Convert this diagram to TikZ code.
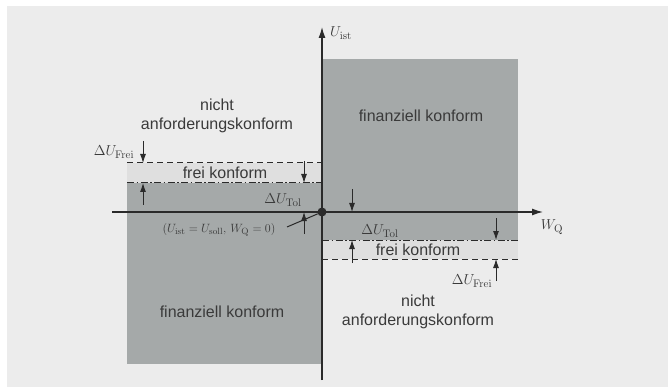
\documentclass[tikz,border=0pt]{standalone}
\usepackage[no-math]{fontspec}
\setmainfont{Liberation Sans}
\usetikzlibrary{arrows.meta}
\definecolor{bggray}{HTML}{ECECEC}
\definecolor{areagray}{HTML}{A5A9A9}
\definecolor{bandgray}{HTML}{DFDFDF}
\definecolor{inkgray}{HTML}{2A2A2A}
\definecolor{textgray}{HTML}{3A3A3A}

\begin{document}
\begin{tikzpicture}[x=1pt, y=-1pt,
            >={Latex[length=9pt,width=6pt]},
            axis/.style={draw=inkgray, line width=1.3pt},
            dimline/.style={->, draw=inkgray, line width=0.9pt},
            tolline/.style={draw=inkgray, line width=1pt, dash pattern=on 7pt off 2.5pt on 1.5pt off 2.5pt},
            freeline/.style={draw=inkgray, line width=1pt, dash pattern=on 6pt off 4pt},
            areatext/.style={text=textgray, font=\fontsize{16}{19}\selectfont, align=center, inner sep=0pt},
            symtext/.style={text=textgray, font=\fontsize{15}{18}\selectfont, inner sep=0pt}
        ]
        \useasboundingbox (0,0) rectangle (668,387);
        \fill[white] (0,0) rectangle (668,387);
        \fill[bggray] (7,6) rectangle (668,387);

        % Areas
        \fill[areagray] (322,59) rectangle (518,240);
        \fill[bandgray] (322,240) rectangle (518,259);
        \fill[areagray] (127,183) rectangle (322,364);
        \fill[bandgray] (127,163) rectangle (322,183);

        % Tolerance and limit lines
        \draw[freeline] (127,163) -- (322,163);
        \draw[tolline] (127,183) -- (322,183);
        \draw[tolline] (322,240) -- (518,240);
        \draw[freeline] (322,259) -- (518,259);

        % Axes
        \coordinate (xleft) at (112,212);
        \coordinate (xright) at (543,212);
        \coordinate (ybot) at (322,380);
        \coordinate (ytop) at (322,27);
        \draw[axis, -{Latex[length=11pt,width=7pt]}] (xleft) -- (xright);
        \draw[axis, -{Latex[length=11pt,width=7pt]}] (ybot) -- (ytop);
        \node[symtext, anchor=west] (uist) at (330,33) {$U_{\mathrm{ist}}$};
        \node[symtext] (wq) at (552,227) {$W_{\mathrm{Q}}$};
        \node[circle, fill=inkgray, inner sep=0pt, minimum size=9pt] (origin) at (322,212) {};

        % Left side
        \node[areatext] (nak1) at (217,116) {nicht\\anforderungskonform};
        \node[areatext] (frei1) at (225,173) {frei konform};
        \node[areatext] (fin1) at (222,312) {finanziell konform};
        \coordinate (f1a) at (143,141);
        \coordinate (f1b) at (143,163);
        \coordinate (f1c) at (143,205);
        \coordinate (f1d) at (143,183);
        \draw[dimline] (f1a) -- (f1b);
        \draw[dimline] (f1c) -- (f1d);
        \node[symtext] (dfrei1) at (114,152) {$\Delta U_{\mathrm{Frei}}$};
        \coordinate (t1a) at (304,161);
        \coordinate (t1b) at (304,183);
        \coordinate (t1c) at (304,234);
        \coordinate (t1d) at (304,212);
        \draw[dimline] (t1a) -- (t1b);
        \draw[dimline] (t1c) -- (t1d);
        \node[symtext] (dtol1) at (283,200) {$\Delta U_{\mathrm{Tol}}$};
        \node[symtext, font=\fontsize{12.5}{14}\selectfont] (ref) at (219,230) {$(U_{\mathrm{ist}}=U_{\mathrm{soll}},\,W_{\mathrm{Q}}=0)$};
        \coordinate (lead) at (287,227);
        \draw[inkgray, line width=1pt] (lead) -- (origin);

        % Right side
        \node[areatext] (fin2) at (421,116) {finanziell konform};
        \node[areatext] (frei2) at (418,250) {frei konform};
        \node[areatext] (nak2) at (418,312) {nicht\\anforderungskonform};
        \coordinate (t2a) at (352,189);
        \coordinate (t2b) at (352,212);
        \coordinate (t2c) at (352,263);
        \coordinate (t2d) at (352,240);
        \draw[dimline] (t2a) -- (t2b);
        \draw[dimline] (t2c) -- (t2d);
        \node[symtext] (dtol2) at (380,231) {$\Delta U_{\mathrm{Tol}}$};
        \coordinate (f2a) at (496,218);
        \coordinate (f2b) at (496,240);
        \coordinate (f2c) at (496,281);
        \coordinate (f2d) at (496,259);
        \draw[dimline] (f2a) -- (f2b);
        \draw[dimline] (f2c) -- (f2d);
        \node[symtext] (dfrei2) at (472,281) {$\Delta U_{\mathrm{Frei}}$};
\end{tikzpicture}
\end{document}
